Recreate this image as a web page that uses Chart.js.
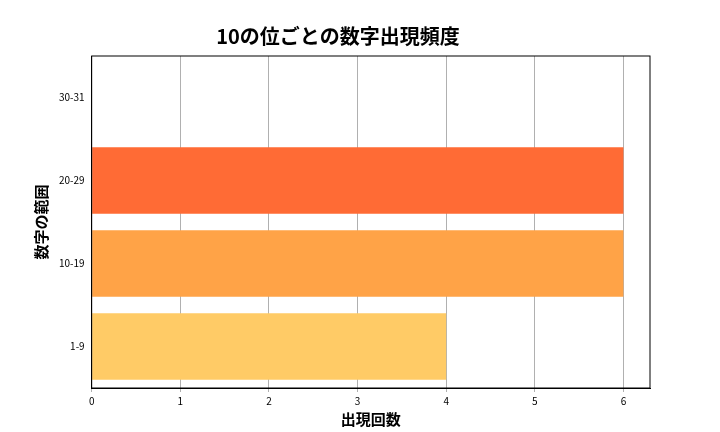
<!DOCTYPE html>
<html><head><meta charset="utf-8">
<script src="https://cdn.jsdelivr.net/npm/chart.js@4/dist/chart.umd.min.js"></script>
<style>body{margin:0;background:#fff}#wrap{width:720px;height:432px}</style>
</head><body><div id="wrap"><canvas id="c"></canvas></div>
<script>
const categories = ['30-31', '20-29', '10-19', '1-9'];
const counts = [0, 6, 6, 4];
const barColors = ['#ffffff', '#ff6b35', '#ffa347', '#ffcb66'];
const xTicks = [0, 1, 2, 3, 4, 5, 6];
const font = "'Noto Sans CJK JP', 'Noto Sans', sans-serif";

// full box around plot area like matplotlib spines
const frame = {
    id: 'frame',
    afterDraw(chart) {
        const { ctx, chartArea: a } = chart;
        ctx.save();
        ctx.strokeStyle = '#000';
        ctx.lineWidth = 1;
        ctx.strokeRect(a.left, a.top, a.right - a.left, a.bottom - a.top);
        ctx.restore();
    }
};

new Chart(document.getElementById('c'), {
    type: 'bar',
    data: {
        labels: categories,
        datasets: [{ data: counts, backgroundColor: barColors, barPercentage: 0.8, categoryPercentage: 1 }]
    },
    options: {
        indexAxis: 'y',
        responsive: true,
        maintainAspectRatio: false,
        animation: false,
        layout: { padding: { left: 26, right: 70, top: 24, bottom: 4 } },
        plugins: {
            legend: { display: false },
            tooltip: { enabled: false },
            title: { display: true, text: '10の位ごとの数字出現頻度', color: '#000', font: { family: font, size: 20, weight: 'bold' }, padding: { top: 0, bottom: 8 } }
        },
        scales: {
            x: {
                min: 0, max: 6.3,
                afterBuildTicks: axis => { axis.ticks = xTicks.map(v => ({ value: v })); },
                grid: { color: '#b0b0b0', drawTicks: true, tickLength: 4 },
                border: { color: '#000' },
                ticks: { color: '#000', font: { family: font, size: 10 } },
                title: { display: true, text: '出現回数', color: '#000', font: { family: font, size: 15, weight: 'bold' }, padding: 0 }
            },
            y: {
                grid: { display: false, drawTicks: true, tickLength: 4 },
                border: { color: '#000' },
                ticks: { color: '#000', font: { family: font, size: 10 } },
                title: { display: true, text: '数字の範囲', color: '#000', font: { family: font, size: 15, weight: 'bold' }, padding: 6 }
            }
        }
    },
    plugins: [frame]
});
</script></body></html>
